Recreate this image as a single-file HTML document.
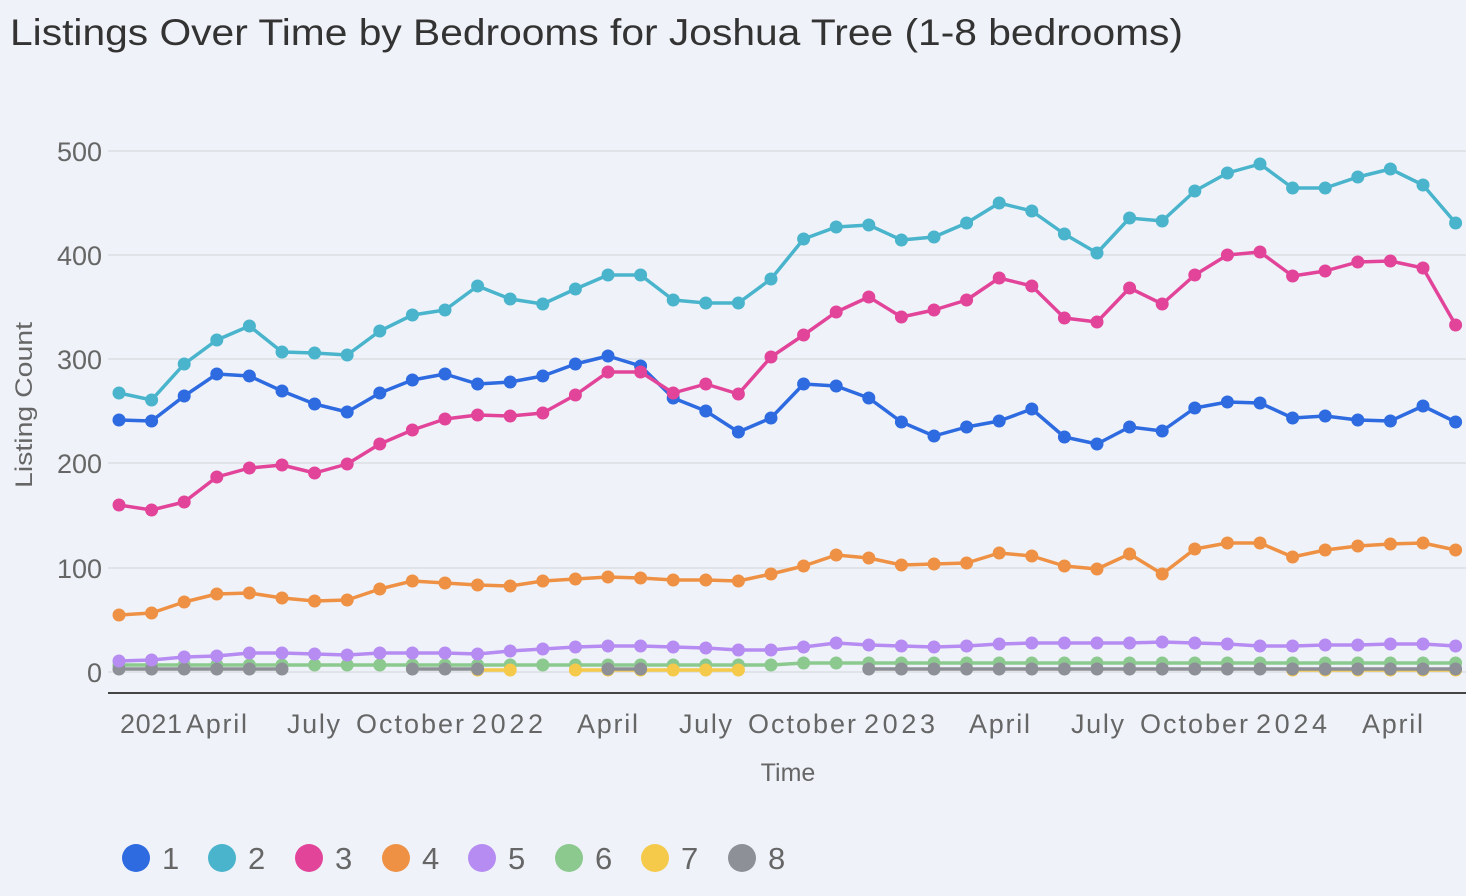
<!DOCTYPE html>
<html><head><meta charset="utf-8"><style>
body{margin:0;background:#eff3f9;font-family:"Liberation Sans",sans-serif;}
</style></head><body>
<svg width="1466" height="896" xmlns="http://www.w3.org/2000/svg" style="display:block">
<rect width="1466" height="896" fill="#eff3f9"/>
<text x="10" y="45" font-size="37" fill="#333" textLength="1173" lengthAdjust="spacingAndGlyphs">Listings Over Time by Bedrooms for Joshua Tree (1-8 bedrooms)</text>
<g stroke="#dcdfe4" stroke-width="1.5">
<line x1="108" x2="1466" y1="151" y2="151"/><line x1="108" x2="1466" y1="255" y2="255"/>
<line x1="108" x2="1466" y1="359" y2="359"/><line x1="108" x2="1466" y1="463" y2="463"/>
<line x1="108" x2="1466" y1="568" y2="568"/><line x1="108" x2="1466" y1="672" y2="672"/>
</g>
<line x1="108" x2="1466" y1="693" y2="693" stroke="#444" stroke-width="2"/>
<g font-size="27" fill="#666" text-anchor="end">
<text x="102" y="161">500</text><text x="102" y="265">400</text><text x="102" y="369">300</text>
<text x="102" y="473">200</text><text x="102" y="578">100</text><text x="102" y="682">0</text>
</g>
<text transform="translate(32,405) rotate(-90)" font-size="24" fill="#666" text-anchor="middle" textLength="166" lengthAdjust="spacingAndGlyphs">Listing Count</text>
<g font-size="27" fill="#666" lengthAdjust="spacingAndGlyphs">
<text x="120" y="733" textLength="62">2021</text><text x="186" y="733" textLength="61">April</text><text x="287" y="733" textLength="53">July</text>
<text x="356" y="733" textLength="108">October</text><text x="472" y="733" textLength="71">2022</text><text x="577" y="733" textLength="61">April</text>
<text x="679" y="733" textLength="53">July</text><text x="748" y="733" textLength="108">October</text><text x="864" y="733" textLength="71">2023</text>
<text x="969" y="733" textLength="61">April</text><text x="1071" y="733" textLength="53">July</text><text x="1140" y="733" textLength="108">October</text>
<text x="1256" y="733" textLength="71">2024</text><text x="1362" y="733" textLength="61">April</text>
</g>
<text x="788" y="781" font-size="25" fill="#666" text-anchor="middle">Time</text>
<g id="series"></g>
<g font-size="31" fill="#666">
<circle cx="136" cy="858" r="14" fill="#2e6ae0"/><text x="162" y="869">1</text>
<circle cx="222" cy="858" r="14" fill="#4ab4cc"/><text x="248" y="869">2</text>
<circle cx="309" cy="858" r="14" fill="#e2449a"/><text x="335" y="869">3</text>
<circle cx="396" cy="858" r="14" fill="#ef9145"/><text x="422" y="869">4</text>
<circle cx="482" cy="858" r="14" fill="#b68cf2"/><text x="508" y="869">5</text>
<circle cx="569" cy="858" r="14" fill="#8cc98f"/><text x="595" y="869">6</text>
<circle cx="655" cy="858" r="14" fill="#f5c94a"/><text x="681" y="869">7</text>
<circle cx="742" cy="858" r="14" fill="#8d9096"/><text x="768" y="869">8</text>
</g>
</svg>
<script>
const gapG=[6,7,8,12,13,14,17,18,19,20,21,22];
const gray=Array.from({length:42},(_,i)=>gapG.includes(i)?null:669);
const yel=Array.from({length:42},(_,i)=>(i==11||i==12||(i>=14&&i<=19)||i>35)?670:null);
const S=[
["#8cc98f",Array.from({length:42},(_,i)=>665-(i>20?2:0))],
["#f5c94a",yel],
["#8d9096",gray],
["#b68cf2",[661,660,657,656,653,653,654,655,653,653,653,654,651,649,647,646,646,647,648,650,650,647,643,645,646,647,646,644,643,643,643,643,642,643,644,646,646,645,645,644,644,646]],
["#ef9145",[615,613,602,594,593,598,601,600,589,581,583,585,586,581,579,577,578,580,580,581,574,566,555,558,565,564,563,553,556,566,569,554,574,549,543,543,557,550,546,544,543,550]],
["#2e6ae0",[420,421,396,374,376,391,404,412,393,380,374,384,382,376,364,356,366,398,411,432,418,384,386,398,422,436,427,421,409,437,444,427,431,408,402,403,418,416,420,421,406,422]],
["#e2449a",[505,510,502,477,468,465,473,464,444,430,419,415,416,413,395,372,372,393,384,394,357,335,312,297,317,310,300,278,286,318,322,288,304,275,255,252,276,271,262,261,268,325]],
["#4ab4cc",[393,400,364,340,326,352,353,355,331,315,310,286,299,304,289,275,275,300,303,303,279,239,227,225,240,237,223,203,211,234,253,218,221,191,173,164,188,188,177,169,185,223]]
];
const g=document.getElementById('series');let h='';
const X=i=>119+i*32.6;
for(const [c,ys] of S){
 let seg=[];const segs=[];
 ys.forEach((y,i)=>{if(y==null){if(seg.length)segs.push(seg);seg=[];}else seg.push(X(i).toFixed(1)+','+y);});
 if(seg.length)segs.push(seg);
 segs.forEach(s=>{if(s.length>1)h+=`<polyline fill="none" stroke="${c}" stroke-width="3.5" stroke-linejoin="round" points="${s.join(' ')}"/>`;});
 ys.forEach((y,i)=>{if(y!=null)h+=`<circle cx="${X(i).toFixed(1)}" cy="${y}" r="6.5" fill="${c}"/>`;});
}
g.innerHTML=h;
</script>
</body></html>
